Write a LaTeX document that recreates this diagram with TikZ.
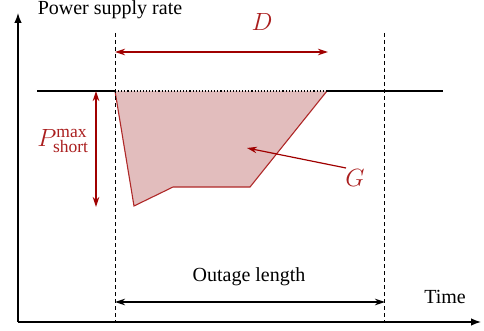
\documentclass[tikz,border=0pt]{standalone}
\usepackage{fontspec}
\setmainfont{Liberation Serif}
\usetikzlibrary{arrows.meta}
\definecolor{darkred}{RGB}{160,0,0}
\definecolor{polyfill}{RGB}{226,189,189}
\definecolor{polyedge}{RGB}{175,40,40}
\definecolor{labred}{RGB}{170,30,30}
\begin{document}
\begin{tikzpicture}[x=1pt,y=-1pt,
  axis/.style={line width=1.3pt,-{Latex[length=10pt,width=7.5pt]}},
  guide/.style={line width=1pt,dash pattern=on 4pt off 3pt},
  redarr/.style={line width=1.2pt,darkred,{Stealth[length=10pt,width=6.5pt]}-{Stealth[length=10pt,width=6.5pt]}},
  blkarr/.style={line width=1.2pt,black,{Stealth[length=10pt,width=6.5pt]}-{Stealth[length=10pt,width=6.5pt]}},
  lbl/.style={font=\fontsize{20}{24}\selectfont,inner sep=0pt},
  redlbl/.style={font=\fontsize{25}{30}\selectfont,inner sep=0pt,text=labred}]
\useasboundingbox (0,0) rectangle (484,331);
% coordinates
\coordinate (O) at (18,322);
\coordinate (Ytop) at (18,13);
\coordinate (Xend) at (481,322);
\coordinate (Bl) at (37,91);
\coordinate (Bs) at (115,91);
\coordinate (Be) at (327,91);
\coordinate (Br) at (443,91);
\coordinate (L1t) at (115,33);
\coordinate (L1b) at (115,322);
\coordinate (L2t) at (384,33);
\coordinate (L2b) at (384,322);
\coordinate (Ds) at (115,52);
\coordinate (De) at (328,52);
\coordinate (Pt) at (96,91);
\coordinate (Pb) at (96,207);
\coordinate (Os) at (115,302);
\coordinate (Oe) at (385,302);
\coordinate (Gt) at (346,168);
\coordinate (Gh) at (247,148);
% polygon
\draw[fill=polyfill,draw=polyedge,line width=1.1pt] (Bs) -- (134,206) -- (173,187) -- (250,187) -- (Be);
% baseline
\draw[line width=1.1pt] (Bl) -- (Bs);
\draw[line width=1.1pt,dotted] (Bs) -- (Be);
\draw[line width=1.1pt] (Be) -- (Br);
% guides
\draw[guide] (L1t) -- (L1b);
\draw[guide] (L2t) -- (L2b);
% axes
\draw[axis] (O) -- (Ytop);
\draw[axis] (O) -- (Xend);
% arrows
\draw[redarr] (Ds) -- (De);
\draw[redarr] (Pt) -- (Pb);
\draw[blkarr] (Os) -- (Oe);
\draw[line width=1.2pt,darkred,-{Stealth[length=10pt,width=6.5pt]}] (Gt) -- (Gh);
% labels
\node[lbl] (ylab) at (110,10) {Power supply rate};
\node[lbl] (xlab) at (445,297) {Time};
\node[lbl] (olab) at (249,277) {Outage length};
\node[redlbl] (dlab) at (262,22) {$D$};
\node[redlbl] (glab) at (355,178) {$G$};
\node[redlbl] (plab) at (63,141) {$P_{\mathrm{short}}^{\mathrm{max}}$};
\end{tikzpicture}
\end{document}
